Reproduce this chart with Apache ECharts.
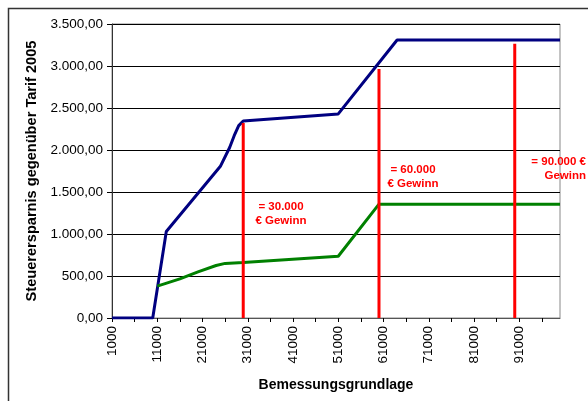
<!DOCTYPE html>
<html>
<head>
<meta charset="utf-8">
<script src="https://cdn.jsdelivr.net/npm/echarts@6/dist/echarts.min.js"></script>
<style>html,body{margin:0;padding:0;background:#fff;}#c{width:588px;height:401px;}</style>
</head>
<body>
<div id="c"></div>
<script>
// Category axis: Bemessungsgrundlage 1000 .. 100000 in steps of 1000
var xStart = 1000, xStep = 1000, xCount = 100;
var categories = [];
for (var i = 0; i < xCount; i++) categories.push(String(xStart + i * xStep));

// Blue series (upper curve)
var blueX = [1000, 10000, 13000, 25000, 27000, 28000, 29000, 30000, 51000, 64000, 100000];
var blueY = [0, 0, 1030, 1810, 2030, 2170, 2290, 2345, 2430, 3310, 3310];
// Green series (lower curve)
var greenX = [11000, 16000, 20000, 24000, 26000, 30000, 51000, 60000, 100000];
var greenY = [380, 465, 550, 625, 650, 662, 735, 1355, 1355];
// Red markers
var redX = [30000, 60000, 90000];
var redTop = [2320, 2965, 3265];
var redLabels = [['= 30.000', '€ Gewinn'], ['= 60.000', '€ Gewinn'], ['= 90.000 €', 'Gewinn']];

var yMin = 0, yMax = 3500, yStep = 500;
var yTitle = 'Steuerersparnis gegenüber Tarif 2005';
var xTitle = 'Bemessungsgrundlage';

function pairs(xs, ys) { return xs.map(function (x, k) { return [String(x), ys[k]]; }); }
function fmtDE(v) {
  var s = v.toFixed(2).split('.');
  var int = s[0].replace(/\B(?=(\d{3})+(?!\d))/g, '.');
  return int + ',' + s[1];
}

var FONT = 'Liberation Sans, Arial, sans-serif';
var series = [
  { type: 'line', data: pairs(blueX, blueY), symbol: 'none', lineStyle: { color: '#000080', width: 3 }, z: 3 },
  { type: 'line', data: pairs(greenX, greenY), symbol: 'none', lineStyle: { color: '#008000', width: 3 }, z: 3 }
];
redX.forEach(function (x, k) {
  series.push({ type: 'line', data: [[String(x), 0], [String(x), redTop[k]]], symbol: 'none',
    lineStyle: { color: '#ff0000', width: 3 }, z: 4 });
});

var labelPos = [
  { x: 281, y: 207, align: 'center' },
  { x: 413, y: 170, align: 'center' },
  { x: 586, y: 162, align: 'right' }
];
var graphics = [{
  type: 'rect', left: 6, top: 6, shape: { x: 0, y: 0, width: 640, height: 440 },
  style: { fill: 'none', stroke: '#333', lineWidth: 1.5 }, silent: true, z: -1
}];
redLabels.forEach(function (lines, k) {
  lines.forEach(function (t, j) {
    graphics.push({ type: 'text', x: labelPos[k].x, y: labelPos[k].y + j * 13.5,
      style: { text: t, fill: '#ff0000', font: 'bold 11.5px ' + FONT, textAlign: labelPos[k].align, textVerticalAlign: 'middle' }, z: 10 });
  });
});

var chart = echarts.init(document.getElementById('c'));
chart.setOption({
  animation: false,
  backgroundColor: '#fff',
  grid: { left: 112, right: 28, top: 24, bottom: 83, show: true, borderColor: '#888', borderWidth: 1 },
  xAxis: {
    type: 'category', data: categories, boundaryGap: false,
    name: xTitle, nameLocation: 'middle', nameGap: 60,
    nameTextStyle: { fontFamily: FONT, fontWeight: 'bold', fontSize: 14, color: '#000' },
    axisLine: { lineStyle: { color: '#555', width: 1 } },
    axisTick: { interval: 4, length: 4, lineStyle: { color: '#000' } },
    axisLabel: { interval: 9, rotate: 90, margin: 8, fontFamily: FONT, fontSize: 13.5, color: '#000' },
    splitLine: { show: false }
  },
  yAxis: {
    type: 'value', min: yMin, max: yMax, interval: yStep,
    name: yTitle, nameLocation: 'middle', nameGap: 73,
    nameTextStyle: { fontFamily: FONT, fontWeight: 'bold', fontSize: 14.6, color: '#000' },
    axisLine: { show: true, lineStyle: { color: '#333', width: 1 } },
    axisTick: { show: true, length: 5, lineStyle: { color: '#000' } },
    axisLabel: { margin: 9, fontFamily: FONT, fontSize: 13.5, color: '#000', formatter: fmtDE },
    splitLine: { lineStyle: { color: '#000', width: 1 } }
  },
  series: series,
  graphic: graphics
});
</script>
</body>
</html>
